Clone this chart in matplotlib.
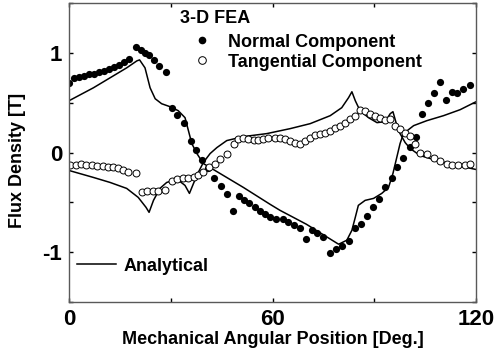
import matplotlib
matplotlib.use("Agg")
import matplotlib.pyplot as plt
from matplotlib.ticker import MultipleLocator
from matplotlib.lines import Line2D

# 3-D FEA, normal component (filled dots)
normal_deg = [0.0, 1.5, 3.0, 4.4, 6.0, 7.5, 8.9, 10.4, 11.9, 13.4, 14.8, 16.2, 17.8,
              19.7, 21.1, 22.4, 23.7, 25.2, 26.6, 28.6,
              30.5, 31.9, 34.0, 35.9, 37.5, 39.1, 41.1, 42.8, 44.7, 46.5, 48.3,
              50.1, 51.6, 53.2, 54.9, 56.3, 57.8, 59.3, 61.1, 63.0, 64.7, 66.4,
              68.1, 69.9, 71.6, 73.2, 75.0, 77.0, 78.8, 80.4, 82.4, 84.4, 86.0,
              87.8, 89.6, 91.4, 93.2, 95.2, 96.8, 98.6, 100.4, 102.3, 104.0,
              105.7, 107.5, 109.4, 111.2, 112.9, 114.5, 116.3, 118.3]
normal_val = [0.70, 0.75, 0.76, 0.77, 0.79, 0.79, 0.81, 0.82, 0.84, 0.86, 0.88, 0.91, 0.94,
              1.06, 1.03, 1.00, 0.98, 0.93, 0.87, 0.81,
              0.45, 0.38, 0.30, 0.12, 0.03, -0.07, -0.16, -0.26, -0.34, -0.42, -0.59,
              -0.44, -0.48, -0.51, -0.55, -0.59, -0.62, -0.65, -0.67, -0.67, -0.70, -0.73,
              -0.76, -0.87, -0.78, -0.81, -0.85, -1.01, -0.97, -0.94, -0.89, -0.76, -0.72,
              -0.64, -0.55, -0.47, -0.35, -0.26, -0.15, -0.05, 0.06, 0.16, 0.39,
              0.50, 0.60, 0.71, 0.53, 0.61, 0.60, 0.64, 0.68]

# 3-D FEA, tangential component (open circles)
tang_deg = [0.3, 2.0, 3.5, 5.0, 6.7, 8.3, 9.9, 11.6, 13.1, 14.5, 16.0, 17.5, 19.8,
            21.4, 23.1, 24.7, 26.3, 28.3,
            30.3, 31.9, 33.7, 35.2, 36.7, 38.1, 39.6, 41.4, 43.1, 44.5, 46.5,
            48.5, 49.9, 51.4, 52.9, 54.4, 55.8, 57.3, 58.8, 60.8, 62.2, 63.7,
            65.2, 66.7, 68.1, 69.6, 71.1, 72.6, 74.0, 75.5, 77.0, 78.5, 79.9,
            81.4, 82.9, 84.4, 85.8, 87.3, 88.8, 90.3, 91.7, 93.2, 94.7, 96.2,
            97.6, 99.1, 100.6, 102.0, 103.5, 105.5, 107.5, 109.4, 111.4, 112.9,
            114.8, 116.8, 118.3]
tang_val = [-0.12, -0.12, -0.11, -0.12, -0.13, -0.14, -0.14, -0.15, -0.15, -0.16, -0.18, -0.20, -0.21,
            -0.40, -0.39, -0.39, -0.39, -0.38,
            -0.29, -0.27, -0.26, -0.26, -0.25, -0.23, -0.20, -0.15, -0.11, -0.06, -0.01,
            0.09, 0.14, 0.15, 0.14, 0.13, 0.13, 0.14, 0.15, 0.15, 0.15, 0.14,
            0.12, 0.10, 0.09, 0.12, 0.15, 0.18, 0.19, 0.20, 0.22, 0.25, 0.27,
            0.30, 0.34, 0.37, 0.43, 0.42, 0.39, 0.37, 0.35, 0.33, 0.34, 0.27,
            0.24, 0.20, 0.17, 0.09, 0.00, -0.01, -0.05, -0.08, -0.11, -0.13,
            -0.13, -0.12, -0.11]

# analytical, normal component
an_n_deg = [0.0, 7.2, 12.1, 17.0, 20.0, 20.8, 22.4, 23.9, 25.4, 27.3, 29.8, 32.2, 34.2,
            35.2, 36.2, 37.7, 39.6, 51.4, 59.3, 62.2, 70.0, 79.0, 79.5, 81.9, 83.4,
            84.4, 85.3, 87.3, 89.8, 92.2, 94.2, 95.5, 96.2, 96.9, 97.6, 98.6, 101.6,
            105.5, 110.4, 115.3, 120.0]
an_n_val = [0.52, 0.65, 0.75, 0.85, 0.92, 0.93, 0.85, 0.65, 0.54, 0.49, 0.46, 0.42, 0.35,
            0.22, 0.09, -0.01, -0.11, -0.35, -0.52, -0.58, -0.72, -0.91, -0.92, -0.88, -0.78,
            -0.65, -0.53, -0.48, -0.46, -0.41, -0.35, -0.21, -0.11, -0.01, 0.09, 0.19, 0.27,
            0.32, 0.37, 0.43, 0.51]

# analytical, tangential component
an_t_deg = [0.0, 7.2, 12.1, 17.0, 20.4, 22.7, 23.6, 24.9, 26.8, 28.8, 30.8, 32.7, 34.2,
            35.5, 36.7, 38.1, 39.6, 41.6, 43.6, 46.5, 51.4, 58.3, 65.2, 71.1, 77.0,
            80.4, 82.4, 83.4, 84.4, 85.8, 88.3, 90.8, 93.2, 94.7, 95.5, 96.5, 97.6,
            99.1, 100.6, 103.5, 108.5, 114.4, 120.0]
an_t_val = [-0.18, -0.25, -0.30, -0.36, -0.45, -0.55, -0.60, -0.48, -0.36, -0.30, -0.28, -0.29, -0.33,
            -0.41, -0.31, -0.20, -0.10, -0.01, 0.05, 0.12, 0.16, 0.19, 0.24, 0.29, 0.37,
            0.45, 0.55, 0.61, 0.52, 0.42, 0.35, 0.30, 0.31, 0.39, 0.41, 0.29, 0.19,
            0.10, 0.04, -0.03, -0.08, -0.13, -0.17]

plt.rcParams['font.family'] = ['Liberation Sans', 'DejaVu Sans']
plt.rcParams['font.weight'] = 'bold'
plt.rcParams['axes.unicode_minus'] = False

fig = plt.figure(figsize=(5.02, 3.58), dpi=100)
ax = fig.add_axes([0.1375, 0.1564, 0.8108, 0.835])

ax.plot(an_n_deg, an_n_val, color='k', lw=1.1)
ax.plot(an_t_deg, an_t_val, color='k', lw=1.1)
ax.plot(normal_deg, normal_val, 'o', color='k', ms=5.2, mew=0)
ax.plot(tang_deg, tang_val, 'o', mfc='white', mec='k', ms=5.0, mew=0.7)

ax.set_xlim(0, 120)
ax.set_ylim(-1.5, 1.5)
ax.xaxis.set_major_locator(MultipleLocator(60))
ax.xaxis.set_minor_locator(MultipleLocator(30))
ax.yaxis.set_major_locator(MultipleLocator(1))
ax.yaxis.set_minor_locator(MultipleLocator(0.5))
ax.tick_params(which='both', direction='in', top=True, right=True, length=3, width=1,
               labelsize=16, pad=5)
for sp in ax.spines.values():
    sp.set_color('0.35')
    sp.set_linewidth(1.0)

ax.set_xlabel('Mechanical Angular Position [Deg.]', fontsize=13, fontweight='bold', labelpad=1)
ax.set_ylabel('Flux Density [T]', fontsize=13, fontweight='bold')
ax.yaxis.set_label_coords(-0.105, 0.475)

# FEA legend, title drawn as a separate text
ax.text(0.273, 0.948, '3-D FEA', transform=ax.transAxes, fontsize=13,
        fontweight='bold', ha='left', va='center')
fea_handles = [Line2D([], [], ls='none', marker='o', color='k', ms=5.5, mew=0),
               Line2D([], [], ls='none', marker='o', mfc='white', mec='k', ms=5.5, mew=0.7)]
leg1 = ax.legend(fea_handles, ['Normal Component', 'Tangential Component'],
                 loc='center left', bbox_to_anchor=(0.304, 0.8355),
                 frameon=False, fontsize=13, handlelength=1.0, borderpad=0,
                 handletextpad=0.96, labelspacing=0.17, borderaxespad=0)
ax.add_artist(leg1)

an_handle = [Line2D([], [], color='k', lw=1.1)]
ax.legend(an_handle, ['Analytical'], loc='center left', bbox_to_anchor=(0.019, 0.12),
          frameon=False, fontsize=13, handlelength=2.2, handletextpad=0.37,
          borderpad=0, borderaxespad=0)

fig.savefig('out.png', dpi=100)
